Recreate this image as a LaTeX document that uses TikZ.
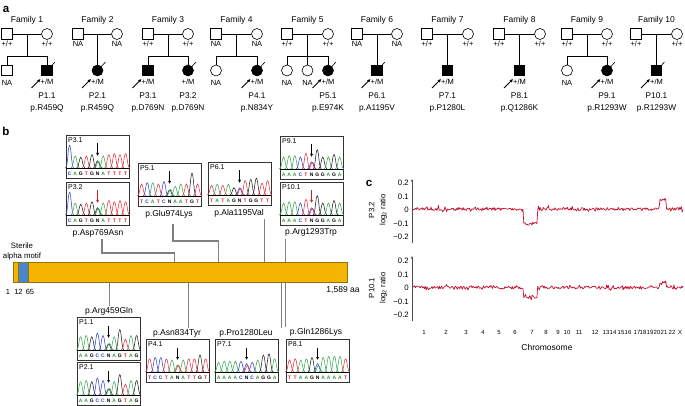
\documentclass[tikz,border=0pt]{standalone}
\usepackage{fontspec}
\setmainfont{Liberation Sans}
\usetikzlibrary{arrows.meta,calc}
\definecolor{barorange}{HTML}{F5B400}
\definecolor{barline}{HTML}{8C7410}
\definecolor{samblue}{HTML}{4A86CF}
\definecolor{connc}{HTML}{808080}
\definecolor{cnvred}{HTML}{C8102E}
\definecolor{arrred}{HTML}{D02020}
\definecolor{pA}{HTML}{3AA655}
\definecolor{pC}{HTML}{3344D0}
\definecolor{pG}{HTML}{222222}
\definecolor{pT}{HTML}{E8303A}
\definecolor{lA}{HTML}{2E9B3A}
\definecolor{lC}{HTML}{2B3BD0}
\definecolor{lG}{HTML}{000000}
\definecolor{lT}{HTML}{E0202A}
\definecolor{lN}{HTML}{000000}
\tikzset{
  panel/.style={font=\bfseries\fontsize{11.5}{12}\selectfont, inner sep=0},
  hdr/.style={font=\fontsize{8.5}{10}\selectfont, inner sep=0},
  plbl/.style={font=\fontsize{7.5}{8}\selectfont, inner sep=0},
  pid/.style={font=\fontsize{8.3}{9}\selectfont, inner sep=0},
  male/.style={draw, line width=0.6pt, minimum size=10.5pt, inner sep=0},
  female/.style={draw, circle, line width=0.6pt, minimum size=11pt, inner sep=0},
  aff/.style={fill=black},
  pline/.style={line width=0.6pt},
  slash/.style={line width=0.6pt},
  proband/.style={line width=1pt, -{Latex[length=3.2pt,width=3.2pt]}},
  cbox/.style={draw=black!80, line width=0.8pt, minimum width=63pt, minimum height=43pt, inner sep=0},
  clbl/.style={font=\fontsize{7}{7}\selectfont, inner sep=0, anchor=north west},
  seqlet/.style={font=\bfseries\fontsize{5}{5}\selectfont, inner sep=0},
  peak/.style={line width=0.55pt},
  carrow/.style={line width=0.9pt, -{Latex[length=3pt,width=3pt]}},
  mlbl/.style={font=\fontsize{8.5}{10}\selectfont, inner sep=0},
  conn/.style={draw=connc, line width=1.1pt},
  barnode/.style={draw=barline, fill=barorange, line width=0.6pt, minimum width=334pt, minimum height=20pt, inner sep=0, anchor=north west},
  samnode/.style={draw=barline, fill=samblue, line width=0.4pt, minimum width=10pt, minimum height=20pt, inner sep=0, anchor=north west},
  poslbl/.style={font=\fontsize{7.5}{8}\selectfont, inner sep=0},
  yaxisline/.style={draw=black!70, line width=0.6pt, -{Stealth[length=3pt,width=2.5pt]}},
  ticklbl/.style={font=\fontsize{7.8}{8}\selectfont, inner sep=0, anchor=east},
  ytitle/.style={font=\fontsize{7.8}{11}\selectfont, inner sep=0, rotate=90, align=center},
  chrlbl/.style={font=\fontsize{6}{6}\selectfont, inner sep=0},
  cnvtrace/.style={draw=cnvred, line width=0.7pt, line join=round}
}
\newcommand\famparents[6]{%
  \node[male] (f#1) at (#2,34) {};
  \node[female] (m#1) at (#3,34) {};
  \node[plbl] (fl#1) at (#2,43.5) {#4};
  \node[plbl] (ml#1) at (#3,43.5) {#5};
  \draw[pline] (f#1) -- (m#1);
  \coordinate (mid#1) at ($(f#1)!0.5!(m#1)$);
  \node[hdr] (hd#1) at ($(mid#1)+(0,-14)$) {#6};
}
\newcommand\ukid[4]{%
  \node[#3] (#1) at (#2,70.5) {};
  \node[plbl] (#1-g) at (#2,82.5) {#4};
}
\newcommand\akid[7]{%
  \node[#3,aff] (#1) at (#2,70.5) {};
  \node[plbl] (#1-g) at (#2,81.5) {+/M};
  \ifnum#4=1\relax \draw[slash] ([shift={(2.5,-2.5)}]#1.center) -- ([shift={(8,-8.5)}]#1.center);\fi
  \ifnum#5=1\relax \draw[proband] ([shift={(-15.5,17.5)}]#1.center) -- ([shift={(-6.5,8.5)}]#1.center);\fi
  \node[pid] (#1-p) at (#2,96) {#6};
  \node[pid] (#1-m) at (#2,108) {#7};
}
\newcommand\chromo[8]{%
  \begin{scope}[shift={(#2,#3)}]
    \colorlet{pN}{#6}
    \node[cbox] (#1) at (31.5,21.5) {};
    \draw[line width=0.9pt] (#1.west |- 0,33.6) -- (#1.east |- 0,33.6);
    \foreach \b/\h [count=\i from 0] in {#8} {
      \pgfmathsetmacro\px{3.6+\i*5.6}
      \pgfmathsetmacro\pt{33-\h*24}
      \draw[peak, p\b] ({\px-4.2},33) .. controls ({\px-1.8},33) and ({\px-1.6},\pt) .. (\px,\pt) .. controls ({\px+1.6},\pt) and ({\px+1.8},33) .. ({\px+4.2},33);
      \node[seqlet, text=l\b] (#1-s\i) at (\px,38.6) {\b};
    }
    \draw[peak, #7] (28.2,33) .. controls (30.6,33) and (30.8,26.5) .. (32.4,26.5) .. controls (34,26.5) and (34.2,33) .. (36.6,33);
    \node[clbl] (#1-lab) at (2,2) {#4};
    \draw[carrow, #5] (31.6,8.5) -- (31.6,21);
  \end{scope}
}
\begin{document}
\begin{tikzpicture}[x=1pt,y=-1pt]
\useasboundingbox (0,0) rectangle (685,406);
% panel letters
\node[panel] (pa) at (6,9) {a};
\node[panel] (pb) at (6,131) {b};
\node[panel] (pc) at (369,183) {c};

% ---------- pedigrees ----------
\famparents{1}{7}{47}{+/+}{+/+}{Family 1}
\coordinate (s1) at (mid1 |- 0,56);
\draw[pline] (mid1) -- (s1);
\ukid{k1a}{7}{male}{NA}
\akid{k1b}{47}{male}{1}{1}{P1.1}{p.R459Q}
\draw[pline] (k1a) -- (k1a |- s1) -- (k1b |- s1) -- (k1b);

\famparents{2}{78}{117}{NA}{NA}{Family 2}
\akid{k2}{97.5}{female}{1}{1}{P2.1}{p.R459Q}
\draw[pline] (mid2) -- (k2);

\famparents{3}{148}{188}{+/+}{+/+}{Family 3}
\coordinate (s3) at (mid3 |- 0,56);
\draw[pline] (mid3) -- (s3);
\akid{k3a}{148}{male}{0}{1}{P3.1}{p.D769N}
\akid{k3b}{188}{female}{1}{0}{P3.2}{p.D769N}
\draw[pline] (k3a) -- (k3a |- s3) -- (k3b |- s3) -- (k3b);

\famparents{4}{216}{257}{NA}{NA}{Family 4}
\coordinate (s4) at (mid4 |- 0,56);
\draw[pline] (mid4) -- (s4);
\ukid{k4a}{216}{female}{NA}
\akid{k4b}{257}{female}{1}{1}{P4.1}{p.N834Y}
\draw[pline] (k4a) -- (k4a |- s4) -- (k4b |- s4) -- (k4b);

\famparents{5}{287}{328}{+/+}{+/+}{Family 5}
\coordinate (s5) at (mid5 |- 0,56);
\draw[pline] (mid5) -- (s5);
\ukid{k5a}{287}{female}{NA}
\ukid{k5b}{307.5}{female}{NA}
\akid{k5c}{328}{female}{1}{1}{P5.1}{p.E974K}
\draw[pline] (k5a) -- (k5a |- s5) -- (k5c |- s5) -- (k5c);
\draw[pline] (s5) -- (k5b);

\famparents{6}{357}{397}{NA}{NA}{Family 6}
\akid{k6}{377}{male}{1}{1}{P6.1}{p.A1195V}
\draw[pline] (mid6) -- (k6);

\famparents{7}{427}{468}{+/+}{+/+}{Family 7}
\akid{k7}{447.5}{male}{0}{1}{P7.1}{p.P1280L}
\draw[pline] (mid7) -- (k7);

\famparents{8}{499}{540}{+/+}{+/+}{Family 8}
\akid{k8}{519.5}{male}{0}{1}{P8.1}{p.Q1286K}
\draw[pline] (mid8) -- (k8);

\famparents{9}{567}{607}{+/+}{+/+}{Family 9}
\coordinate (s9) at (mid9 |- 0,56);
\draw[pline] (mid9) -- (s9);
\ukid{k9a}{567}{female}{NA}
\akid{k9b}{607}{female}{1}{1}{P9.1}{p.R1293W}
\draw[pline] (k9a) -- (k9a |- s9) -- (k9b |- s9) -- (k9b);

\famparents{10}{636}{677}{+/+}{+/+}{Family 10}
\akid{k10}{656.5}{male}{1}{1}{P10.1}{p.R1293W}
\draw[pline] (mid10) -- (k10);

% ---------- panel b: protein ----------
\node[barnode] (bar) at (13,262) {};
\node[samnode] (sam) at (17.5,262) {};
\node[poslbl] (n1) at (8,291.5) {1};
\node[poslbl] (n12) at (18.5,291.5) {12};
\node[poslbl] (n65) at (30,291.5) {65};
\node[mlbl, align=center, font=\fontsize{7.8}{10}\selectfont] (samlbl) at (22,251) {Sterile\\alpha motif};
\node[mlbl] (len) at (343,290.5) {1,589 aa};
\foreach \r in {459,769,834,974,1195,1280,1286,1293} {
  \coordinate (t\r) at ($(bar.north west)!{\r/1589}!(bar.north east)$);
  \coordinate (u\r) at ($(bar.south west)!{\r/1589}!(bar.south east)$);
}

% chromatograms
\chromo{c31}{66}{135}{P3.1}{black}{pG}{pA}{C/.95,A/.5,G/.45,T/.5,G/.55,N/.3,A/.5,T/.55,T/.6,T/.55,T/.6}
\chromo{c32}{66}{182}{P3.2}{arrred}{pG}{pA}{C/.95,A/.5,G/.45,T/.5,G/.55,N/.3,A/.5,T/.6,T/.55,T/.6,T/.55}
\chromo{c51}{138}{163}{P5.1}{black}{pG}{pA}{T/.5,C/.55,A/.55,T/.5,C/.6,N/.25,A/.4,A/.5,T/.5,G/.95,T/.5}
\chromo{c61}{208}{162}{P6.1}{black}{pC}{pT}{T/.4,A/.45,T/.4,A/.45,G/.3,N/.3,T/.6,G/.65,G/.7,T/.5,T/.6}
\chromo{c91}{280}{136}{P9.1}{black}{pC}{pT}{A/.5,A/.55,A/.55,C/.5,T/.65,N/.3,G/.8,G/.5,A/.5,G/.6,A/.5}
\chromo{c101}{280}{182}{P10.1}{arrred}{pC}{pT}{A/.5,A/.55,A/.55,C/.5,T/.65,N/.3,G/.8,G/.5,A/.5,G/.6,A/.5}
\chromo{c11}{77}{317}{P1.1}{black}{pG}{pA}{A/.55,A/.6,G/.55,C/.7,C/.6,N/.25,A/.55,G/.85,T/.45,A/.6,G/.6}
\chromo{c21}{77}{362}{P2.1}{black}{pG}{pA}{A/.55,A/.6,G/.55,C/.7,C/.6,N/.25,A/.55,G/.85,T/.45,A/.6,G/.6}
\chromo{c41}{146}{339}{P4.1}{black}{pA}{pT}{T/.55,C/.6,C/.6,T/.55,A/.5,N/.3,A/.5,T/.55,T/.55,G/.7,T/.55}
\chromo{c71}{215}{339}{P7.1}{black}{pC}{pT}{A/.4,A/.45,A/.45,A/.45,C/.45,N/.35,C/.4,A/.5,G/.7,G/.75,A/.55}
\chromo{c81}{286}{339}{P8.1}{black}{pC}{pA}{T/.5,T/.55,A/.5,A/.55,G/.6,N/.35,A/.6,A/.65,A/.65,A/.65,T/.55}

% mutation labels
\node[mlbl] (l769) at (98,233) {p.Asp769Asn};
\node[mlbl] (l974) at (169,214) {p.Glu974Lys};
\node[mlbl] (l1195) at (239,213) {p.Ala1195Val};
\node[mlbl] (l1293) at (311,232) {p.Arg1293Trp};
\node[mlbl] (l459) at (109,311) {p.Arg459Gln};
\node[mlbl] (l834) at (177,333) {p.Asn834Tyr};
\node[mlbl] (l1280) at (246,333) {p.Pro1280Leu};
\node[mlbl] (l1286) at (316,332) {p.Gln1286Lys};

% connectors
\draw[conn] ($(l769.south)+(4,2)$) |- ($(t769)+(0,-9)$) -- (t769);
\draw[conn] ($(l974.south)+(4,6)$) |- ($(t974)+(0,-21)$) -- (t974);
\draw[conn] ($(l1195.south -| t1195)+(0,2)$) -- (t1195);
\draw[conn] ($(l1293.south -| t1293)+(0,3)$) -- (t1293);
\draw[conn] (u459) -- ($(l459.north -| u459)+(0,-1)$);
\draw[conn] (u834) -- ($(l834.north -| u834)+(0,-1)$);
\draw[conn, line width=0.9pt] ([xshift=-1.3pt]u1280) -- ($(l1280.north -| u1280)+(-1.3,-1)$);
\draw[conn, line width=0.9pt] ([xshift=1.3pt]u1286) -- ($(l1286.north -| u1286)+(1.3,-1)$);

% ---------- panel c ----------
\coordinate (a1b) at (412,243);
\coordinate (a1t) at (412,179);
\draw[yaxisline] (a1b) -- (a1t);
\node[ticklbl] (y1a) at (409,183) {0.2};
\node[ticklbl] (y1b) at (409,196.5) {0.1};
\node[ticklbl] (y1c) at (409,210) {0};
\node[ticklbl] (y1d) at (409,223.5) {−0.1};
\node[ticklbl] (y1e) at (409,237) {−0.2};
\node[ytitle] (yt1) at (378,210) {P3.2\\log\textsubscript{2} ratio};

\coordinate (a2b) at (412,321);
\coordinate (a2t) at (412,256);
\draw[yaxisline] (a2b) -- (a2t);
\node[ticklbl] (y2a) at (409,261) {0.2};
\node[ticklbl] (y2b) at (409,274.5) {0.1};
\node[ticklbl] (y2c) at (409,288) {0};
\node[ticklbl] (y2d) at (409,301.5) {−0.1};
\node[ticklbl] (y2e) at (409,315) {−0.2};
\node[ytitle] (yt2) at (378,288) {P10.1\\log\textsubscript{2} ratio};

\pgfmathsetseed{7}
\draw[cnvtrace] plot[domain=413:683, samples=330] (\x, {209 + 1.4*rand + 3.5*rand*rand*rand + 15*(\x>523)*(\x<537) - 9*(\x>660)*(\x<666)});
\draw[cnvtrace] plot[domain=413:683, samples=330] (\x, {287.5 + 1.4*rand + 3.5*rand*rand*rand + 10*(\x>523)*(\x<537) - 5*(\x>660)*(\x<666)});

\foreach \c/\xx [count=\k] in {1/424,2/446,3/466,4/483,5/499,6/515,7/532,8/546,9/558,10/567,11/579,12/595,13/606,14/613,15/621,16/628,17/637,18/643,19/650,20/657,21/664,22/672,X/680} {
  \node[chrlbl] (chr\k) at (\xx,332) {\c};
}
\node[mlbl] (chrtitle) at (547,347) {Chromosome};
\end{tikzpicture}
\end{document}
